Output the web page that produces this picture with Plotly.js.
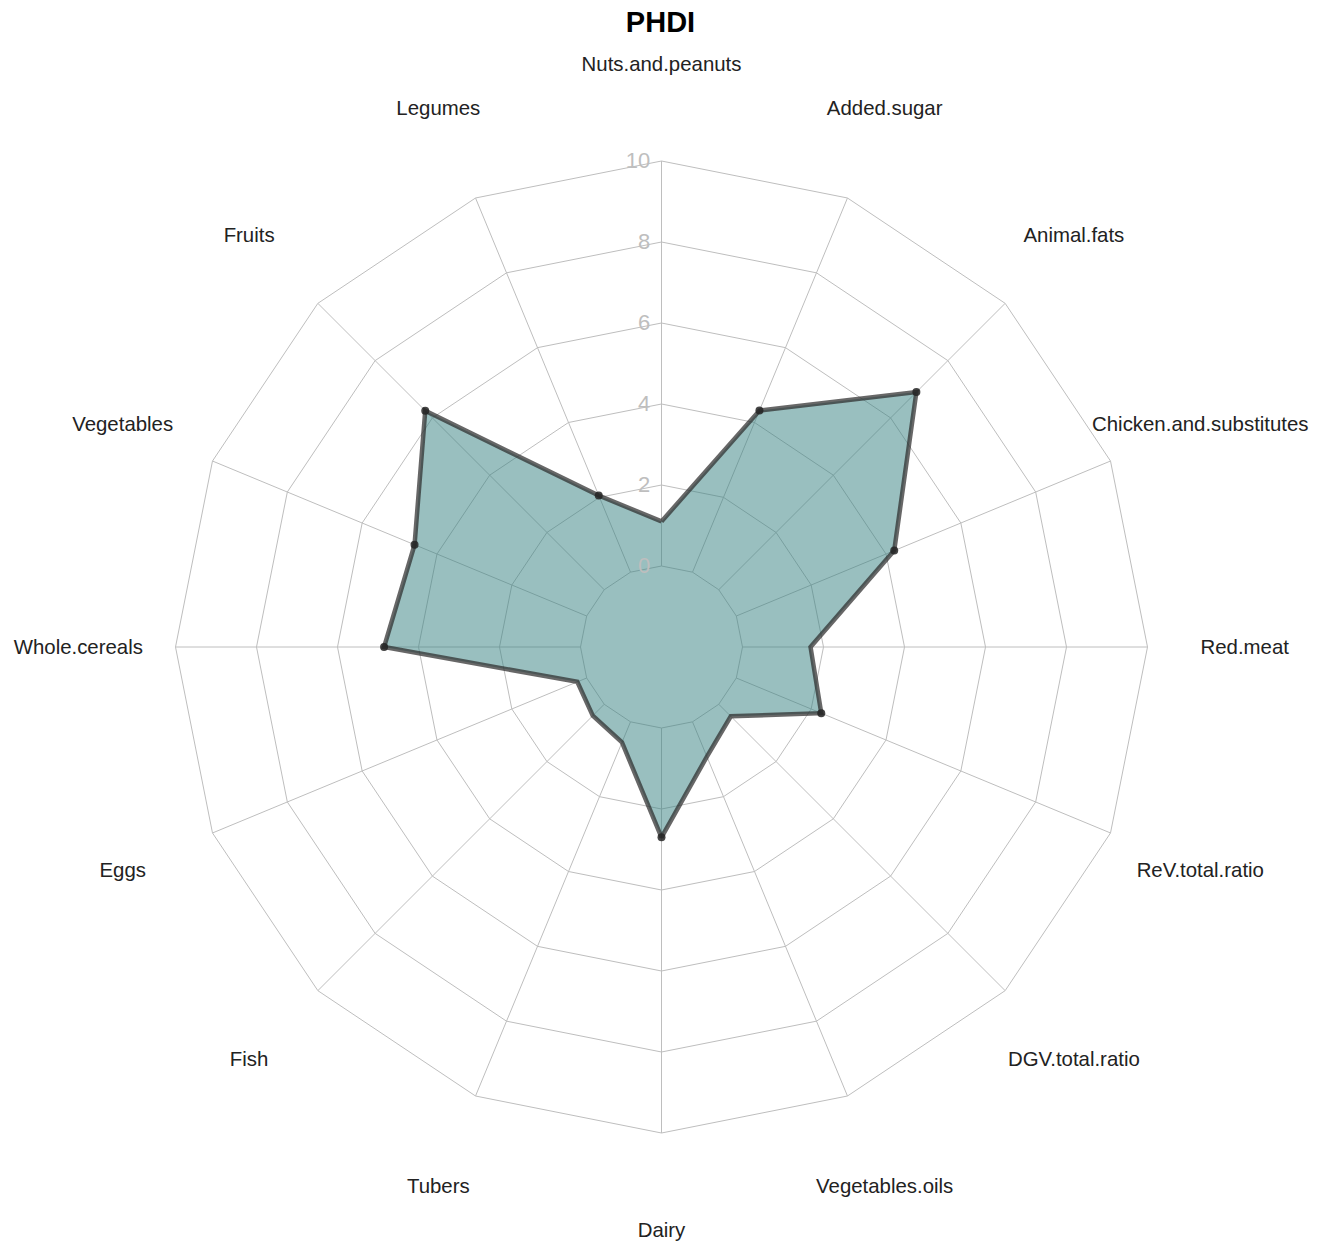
<!DOCTYPE html>
<html>
<head>
<meta charset="utf-8">
<script src="https://cdn.plot.ly/plotly-3.0.1.min.js"></script>
<style>html,body{margin:0;padding:0;background:#fff;}#chart{width:1325px;height:1242px;}</style>
</head>
<body>
<div id="chart"></div>
<script>
// Categories in drawing order (counter-clockwise from top)
const categories = [
  "Nuts.and.peanuts", "Legumes", "Fruits", "Vegetables", "Whole.cereals",
  "Eggs", "Fish", "Tubers", "Dairy", "Vegetables.oils", "DGV.total.ratio",
  "ReV.total.ratio", "Red.meat", "Chicken.and.substitutes", "Animal.fats", "Added.sugar"
];
const phdiValues = [1.1, 2.05, 6.25, 4.6, 4.85, 0.25, 0.4, 0.55, 2.7, 0.93, 0.42, 2.27, 1.68, 4.22, 6.9, 4.32];
const tickValues = [0, 2, 4, 6, 8, 10];
const tickLabels = ["0", "2", "4", "6", "8", "10"];
const axisMin = -2, axisMax = 10;

const gridCol = "#bebebe";
const cx = 661.5, cy = 647, R = 486;
const cy2 = 649, R2 = 593;
const labelR = axisMin + (axisMax - axisMin) * 1.2;          // labels at 1.2 x outer radius
const outerMax2 = axisMin + (axisMax - axisMin) * R2 / R;

// spokes from 0-level to max
const spokeR = [], spokeT = [];
categories.forEach(c => { spokeR.push(0, axisMax, null); spokeT.push(c, c, null); });

const closedR = phdiValues.concat([phdiValues[0]]);
const closedT = categories.concat([categories[0]]);

const font = "Liberation Sans, Arial, sans-serif";

const traces = [
  { type: "scatterpolar", mode: "lines", r: spokeR, theta: spokeT,
    line: { color: gridCol, width: 1 }, connectgaps: false, hoverinfo: "skip", showlegend: false },
  { type: "scatterpolar", mode: "lines+markers", r: closedR, theta: closedT,
    fill: "toself", fillcolor: "rgba(51,128,128,0.5)",
    line: { color: "rgba(45,45,45,0.72)", width: 4.5 },
    marker: { color: "rgba(35,35,35,0.85)", size: 8 }, showlegend: false },
  { type: "scatterpolar", subplot: "polar2", mode: "text", r: categories.map(() => labelR), theta: categories,
    text: categories, textposition: "middle center", cliponaxis: false,
    textfont: { family: font, size: 20.4, color: "#222" },
    hoverinfo: "skip", showlegend: false }
];

const angCommon = { type: "category", categoryarray: categories, direction: "counterclockwise", rotation: 90 };

const layout = {
  width: 1325, height: 1242,
  margin: { l: 0, r: 0, t: 0, b: 0 },
  paper_bgcolor: "#fff",
  showlegend: false,
  title: { text: "<b>PHDI</b>", x: 0.4985, xanchor: "center", y: 1 - 22 / 1242, yanchor: "middle", yref: "container",
    font: { family: font, size: 29, color: "#000" } },
  polar: {
    domain: { x: [(cx - R) / 1325, (cx + R) / 1325], y: [1 - (cy + R) / 1242, 1 - (cy - R) / 1242] },
    bgcolor: "rgba(0,0,0,0)",
    gridshape: "linear",
    radialaxis: { range: [axisMin, axisMax], tickvals: tickValues, ticktext: tickLabels, showticklabels: true,
      ticks: "outside", ticklen: 3, tickcolor: "rgba(0,0,0,0)", showline: false, gridcolor: gridCol, gridwidth: 1,
      angle: 90, side: "counterclockwise", tickangle: 90, layer: "above traces",
      tickfont: { family: font, size: 22, color: gridCol } },
    angularaxis: Object.assign({}, angCommon, {
      showgrid: false, showticklabels: false, ticks: "", showline: true, linecolor: gridCol, linewidth: 1 })
  },
  polar2: {
    domain: { x: [(cx - R2) / 1325, (cx + R2) / 1325], y: [Math.max(0, 1 - (cy2 + R2) / 1242), 1 - (cy2 - R2) / 1242] },
    bgcolor: "rgba(0,0,0,0)",
    radialaxis: { range: [axisMin, outerMax2], visible: false },
    angularaxis: Object.assign({}, angCommon, { visible: false })
  }
};

Plotly.newPlot("chart", traces, layout, { displayModeBar: false, staticPlot: true });
</script>
</body>
</html>
